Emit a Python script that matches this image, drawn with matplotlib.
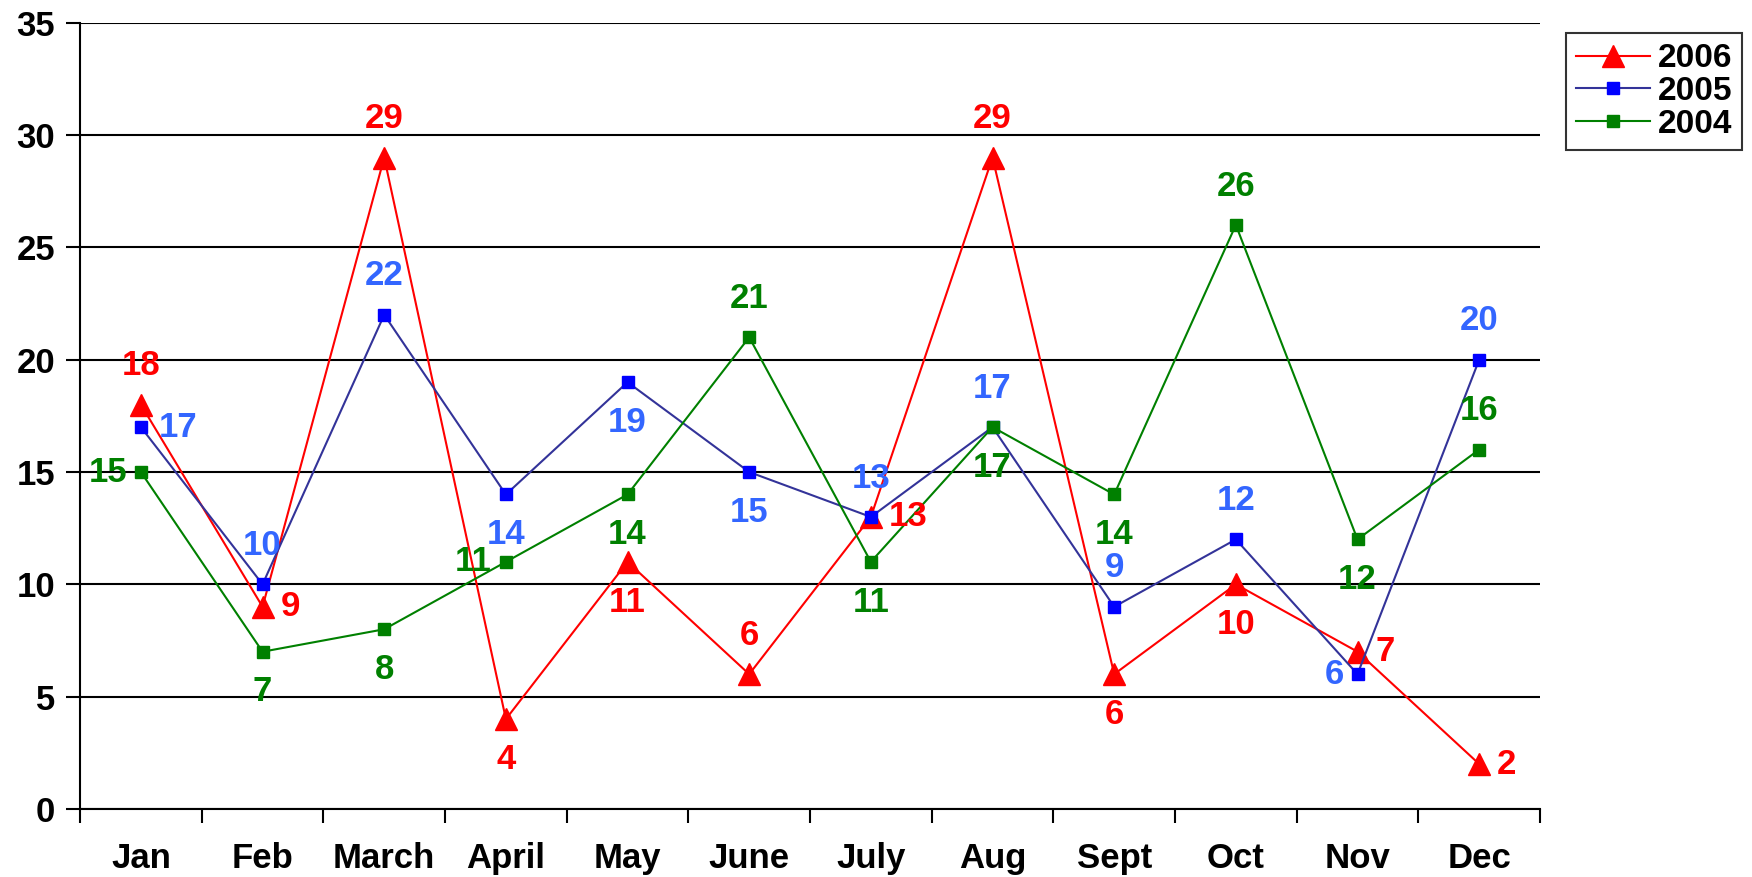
import matplotlib
matplotlib.use('Agg')
import matplotlib.pyplot as plt

months = ['Jan', 'Feb', 'March', 'April', 'May', 'June', 'July', 'Aug', 'Sept', 'Oct', 'Nov', 'Dec']
y2006 = [18, 9, 29, 4, 11, 6, 13, 29, 6, 10, 7, 2]
y2005 = [17, 10, 22, 14, 19, 15, 13, 17, 9, 12, 6, 20]
y2004 = [15, 7, 8, 11, 14, 21, 11, 17, 14, 26, 12, 16]

# where each data label sits relative to its point
pos2006 = ['a', 'r', 'a', 'b', 'b', 'a', 'r', 'a', 'b', 'b', 'r', 'r']
pos2005 = ['r', 'a', 'a', 'b', 'b', 'b', 'a', 'a', 'a', 'a', 'l', 'a']
pos2004 = ['l', 'b', 'b', 'l', 'b', 'a', 'b', 'b', 'b', 'a', 'b', 'a']

plt.rcParams['font.family'] = ['Liberation Sans', 'DejaVu Sans']
plt.rcParams['font.weight'] = 'bold'

fig = plt.figure(figsize=(17.52, 8.77), dpi=100)
ax = fig.add_axes([0.0457, 0.0776, 0.8333, 0.8964])

x = list(range(len(months)))
ax.plot(x, y2006, color='#FF0000', lw=1.5, marker='^', ms=16, label='2006')
ax.plot(x, y2005, color='#333399', lw=1.5, marker='s', ms=8.5, mfc='#0000FF', mec='#0000FF', label='2005')
ax.plot(x, y2004, color='#008000', lw=1.5, marker='s', ms=8.5, label='2004')

offs = {'a': (0, 28, 'center', 'center'), 'b': (0, -29, 'center', 'center'),
        'r': (13, 0, 'left', 'center'), 'l': (-10, 0, 'right', 'center')}


def labels(vals, places, col):
    for i, (v, p) in enumerate(zip(vals, places)):
        dx, dy, ha, va = offs[p]
        ax.annotate(str(v), (i, v), xytext=(dx, dy), textcoords='offset points',
                    ha=ha, va=va, color=col, fontsize=25, fontweight='bold')


labels(y2006, pos2006, '#FF0000')
labels(y2005, pos2005, '#3366FF')
labels(y2004, pos2004, '#008000')

ax.set_xlim(-0.5, 11.5)
ax.set_ylim(0, 35)
ax.set_yticks(range(0, 36, 5))
ax.set_xticks([i - 0.5 for i in range(13)])
ax.set_xticklabels([])
ax.set_xticks(x, minor=True)
ax.set_xticklabels(months, minor=True)
ax.tick_params(axis='x', which='major', length=10, width=1.5, direction='out')
ax.tick_params(axis='x', which='minor', length=0, pad=24, labelsize=25)
ax.tick_params(axis='y', length=10, width=1.5, direction='out', labelsize=25, pad=8)
for lab in ax.get_xticklabels(minor=True) + ax.get_yticklabels():
    lab.set_fontweight('bold')

ax.grid(True, axis='y', color='black', lw=1.5)
ax.set_axisbelow(True)
ax.spines['top'].set_visible(False)
ax.spines['right'].set_visible(False)
ax.spines['left'].set_linewidth(1.5)
ax.spines['bottom'].set_linewidth(1.5)

leg = fig.legend(loc='upper left', bbox_to_anchor=(0.894, 0.962), frameon=True, fancybox=False,
                 edgecolor='black', fontsize=24, handlelength=2.2, borderpad=0.3,
                 labelspacing=0.05, handletextpad=0.25, borderaxespad=0)
leg.get_frame().set_linewidth(1.5)
for t in leg.get_texts():
    t.set_fontweight('bold')

fig.savefig('out.png', dpi=100)
